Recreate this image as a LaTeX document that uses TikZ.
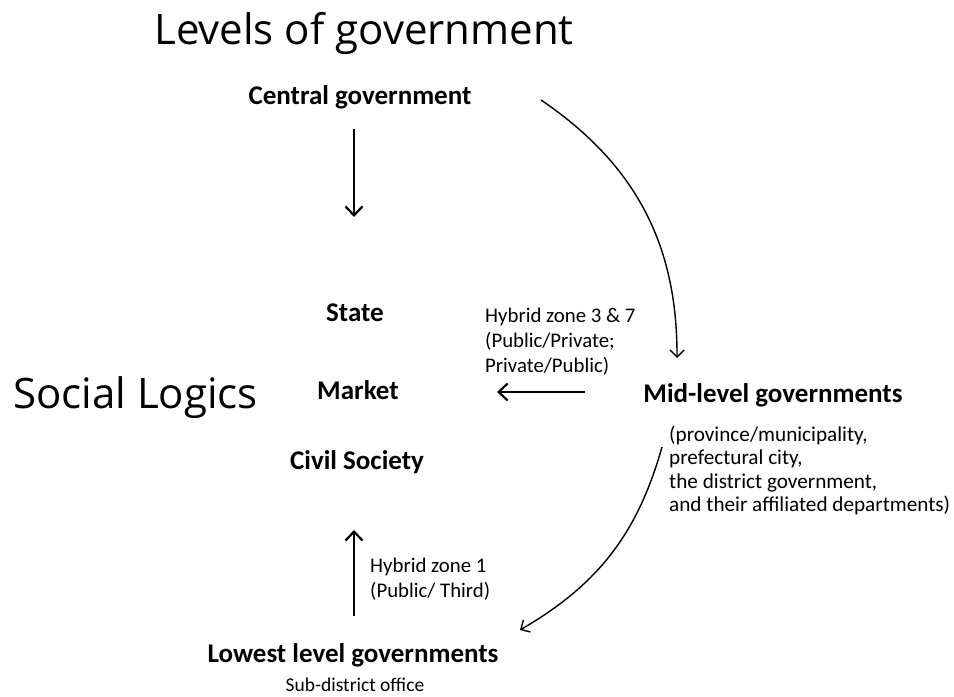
\documentclass[tikz,border=0pt]{standalone}
\usepackage{fontspec}
\setmainfont{Carlito}
\newfontfamily\headfont{Open Sans}
\usetikzlibrary{arrows.meta}

\begin{document}
\begin{tikzpicture}[x=1bp, y=1bp, inner sep=0pt,
    head/.style={font=\headfont\fontsize{42bp}{50bp}\selectfont, anchor=base},
    level/.style={font=\bfseries\fontsize{27bp}{32bp}\selectfont, anchor=base},
    note/.style={font=\fontsize{20.8bp}{25bp}\selectfont, align=left, anchor=base west},
    flow/.style={-{Straight Barb[length=9bp, width=17bp]}, line width=2.2bp},
    curve/.style={-{Straight Barb[length=7bp, width=14bp]}, line width=1.4bp}]
    \fill[white] (0,0) rectangle (954,697);

    \node[head] (title) at (364,652) {Levels of government};
    \node[head, anchor=base west] (logics) at (13,288) {Social Logics};

    \node[level] (central) at (360,592) {Central government};
    \node[level] (state) at (355,375) {State};
    \node[level] (market) at (358,297) {Market};
    \node[level] (civil) at (357,227) {Civil Society};
    \node[level] (mid) at (773,294) {Mid-level governments};
    \node[level] (lowest) at (353,34) {Lowest level governments};
    \node[note, anchor=base, font=\fontsize{19.5bp}{23bp}\selectfont] (office) at (355,5) {Sub-district office};

    % multi-line notes sit on their last line
    \node[note] (zone37) at (485,324) {Hybrid zone 3 \& 7\\(Public/Private;\\Private/Public)};
    \node[note] (zone1) at (370,99) {Hybrid zone 1\\(Public/ Third)};
    \node[note, font=\fontsize{21.2bp}{23.5bp}\selectfont] (units) at (669,185) {(province/municipality,\\prefectural city,\\the district government,\\and their affiliated departments)};

    \draw[flow] ([shift={(-6,-24)}]central.base) -- ([shift={(-1,105)}]state.base);
    \draw[flow] ([shift={(1,47)}]lowest.base) -- ([shift={(-3,-60)}]civil.base);
    \draw[flow] ([shift={(-188,11)}]mid.base) -- ([shift={(139,8)}]market.base);

    \draw[curve] ([shift={(181,5)}]central.base) to[bend left=28] ([shift={(-96,45)}]mid.base);
    \draw[curve] ([shift={(-111,-44)}]mid.base) to[bend left=22] ([shift={(167,33)}]lowest.base);
\end{tikzpicture}
\end{document}
